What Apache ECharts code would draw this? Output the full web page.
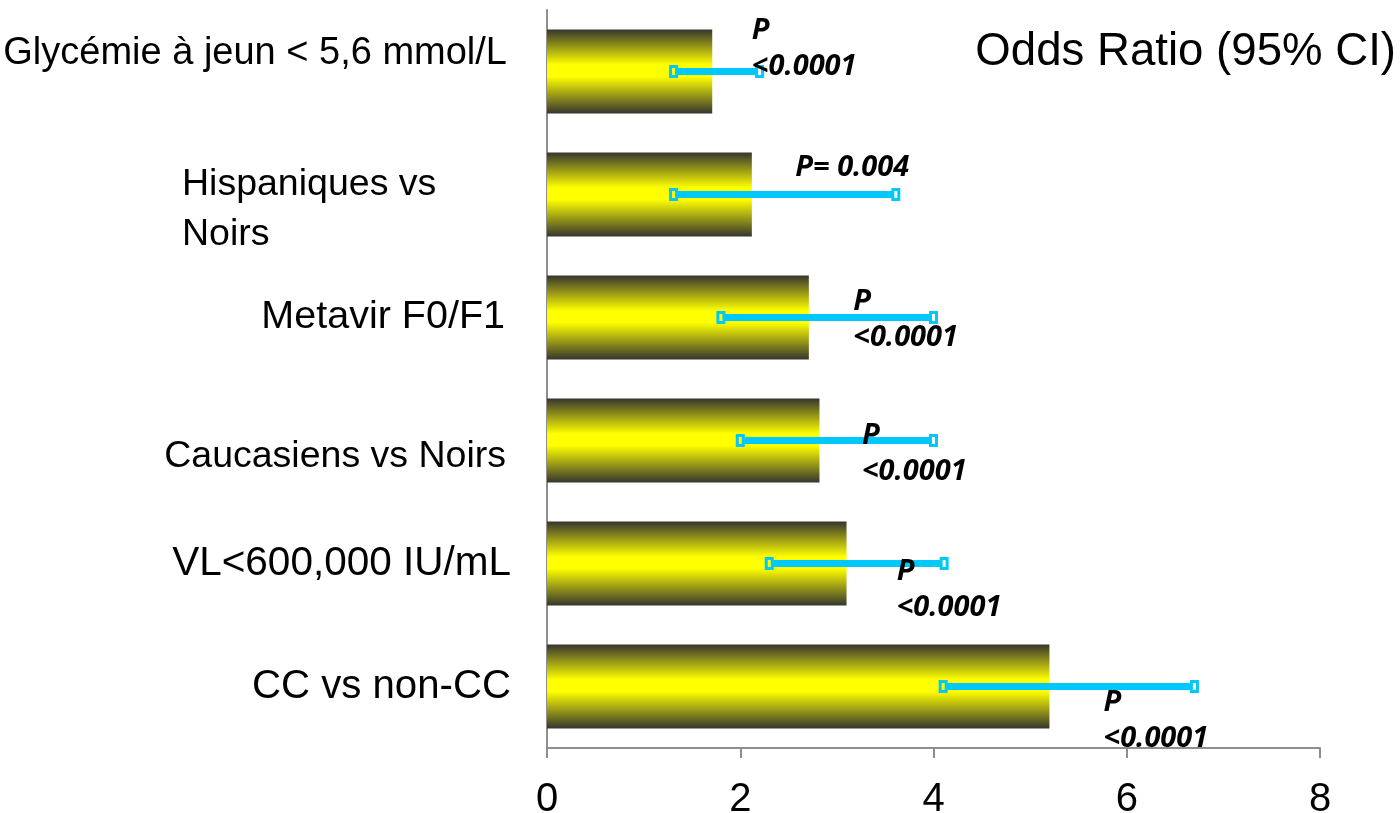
<!DOCTYPE html>
<html><head><meta charset="utf-8">
<script src="https://cdn.jsdelivr.net/npm/echarts@6/dist/echarts.min.js"></script>
<style>html,body{margin:0;padding:0;background:#fff}#c{width:1400px;height:813px}</style>
</head><body><div id="c"></div>
<script>
// ---- data ----
const categories = ['Glycémie à jeun < 5,6 mmol/L', 'Hispaniques vs\nNoirs', 'Metavir F0/F1', 'Caucasiens vs Noirs', 'VL<600,000 IU/mL', 'CC vs non-CC'];
const oddsRatio = [1.71, 2.12, 2.71, 2.82, 3.10, 5.20];
const ciLow = [1.31, 1.31, 1.80, 2.00, 2.30, 4.10];
const ciHigh = [2.20, 3.61, 4.00, 4.00, 4.11, 6.70];
const pValues = ['P\n<0.0001', 'P= 0.004', 'P\n<0.0001', 'P\n<0.0001', 'P\n<0.0001', 'P\n<0.0001'];
const xTicks = [0, 2, 4, 6, 8];
const chartTitle = 'Odds Ratio (95% CI)';

// ---- layout / style (not data) ----
const pLabelLeft = [2.12, 2.57, 3.17, 3.26, 3.62, 5.76]; // label left edge, in axis units
const pLabelDy = [-41, -27, -16, -5, 8, 16];             // first-line centre offset from bar centre, px
const catStyle = ['g', 'h', 'm', 'c', 'v', 'k'];

const FONT = '"Liberation Sans", Arial, sans-serif';
const AXIS = '#8e8e8e';
const CYAN = '#00c8fa';

const chart = echarts.init(document.getElementById('c'), null, {renderer: 'canvas'});
const st = (size, extra) => Object.assign({fontSize: size, fontFamily: FONT, color: '#000'}, extra || {});

chart.setOption({
  animation: false,
  backgroundColor: '#fff',
  title: {
    text: chartTitle, right: 4, top: 29, padding: 0,
    textStyle: {fontSize: 45.6, fontWeight: 'normal', fontFamily: FONT, color: '#000'}
  },
  grid: {left: 547, right: 80, top: 10, bottom: 65, containLabel: false, outerBoundsMode: 'none'},
  xAxis: {
    type: 'value', min: xTicks[0], max: xTicks[xTicks.length - 1], interval: xTicks[1] - xTicks[0],
    axisLine: {show: true, lineStyle: {color: AXIS, width: 2}},
    axisTick: {show: true, length: 10, lineStyle: {color: AXIS, width: 2}},
    splitLine: {show: false},
    axisLabel: {fontSize: 40, fontFamily: FONT, color: '#000', margin: 32}
  },
  yAxis: {
    type: 'category', data: categories, inverse: true,
    axisLine: {show: true, lineStyle: {color: AXIS, width: 2}},
    axisTick: {show: false},
    axisLabel: {
      interval: 0, margin: 36, fontSize: 39, fontFamily: FONT, color: '#000',
      formatter: (v, i) => {
        const s = catStyle[i];
        if (s === 'h') {
          const parts = v.split('\n');
          return '{h1|' + parts[0] + '}\n{h2|' + parts[1] + '}';
        }
        return '{' + s + '|' + v + '}';
      },
      rich: {
        g: st(38, {padding: [0, 4, 36, 0]}),
        h1: st(37.5, {width: 329, align: 'left', lineHeight: 81, padding: [31, 0, 0, 0]}),
        h2: st(37.5, {width: 329, align: 'left', lineHeight: 50}),
        m: st(39.5, {padding: [0, 6, 0, 0]}),
        c: st(37.5, {padding: [32, 5, 0, 0]}),
        v: st(40.5),
        k: st(40.2)
      }
    }
  },
  series: [
    {
      type: 'bar',
      data: oddsRatio,
      barWidth: 84,
      z: 2,
      itemStyle: {
        color: new echarts.graphic.LinearGradient(0, 0, 0, 1, [
          {offset: 0, color: '#35352e'},
          {offset: 0.42, color: '#ffff00'},
          {offset: 0.56, color: '#ffff00'},
          {offset: 1, color: '#35352e'}
        ])
      }
    },
    {
      type: 'custom',
      clip: false,
      z: 5,
      encode: {x: [1, 2], y: 0},
      data: categories.map((c, i) => [i, ciLow[i], ciHigh[i]]),
      renderItem: (params, api) => {
        const i = params.dataIndex;
        const p0 = api.coord([api.value(1), api.value(0)]);
        const p1 = api.coord([api.value(2), api.value(0)]);
        const y = p0[1];
        const lab = api.coord([pLabelLeft[i], api.value(0)]);
        const capW = 6, capH = 10;
        return {
          type: 'group',
          children: [
            {type: 'line', shape: {x1: p0[0] + 4, y1: y, x2: p1[0] - 4, y2: y},
             style: {stroke: CYAN, lineWidth: 7}},
            {type: 'rect', shape: {x: p0[0] - capW / 2, y: y - capH / 2, width: capW, height: capH},
             style: {fill: 'none', stroke: CYAN, lineWidth: 3}},
            {type: 'rect', shape: {x: p1[0] - capW / 2, y: y - capH / 2, width: capW, height: capH},
             style: {fill: 'none', stroke: CYAN, lineWidth: 3}},
            {type: 'text', x: lab[0], y: y + pLabelDy[i] - 18,
             style: {text: pValues[i], fill: '#000', fontFamily: '"Open Sans", sans-serif',
                     fontSize: 29, fontWeight: 'bold', fontStyle: 'italic', lineHeight: 36,
                     align: 'left', verticalAlign: 'top'}}
          ]
        };
      }
    }
  ]
});
</script>
</body></html>
